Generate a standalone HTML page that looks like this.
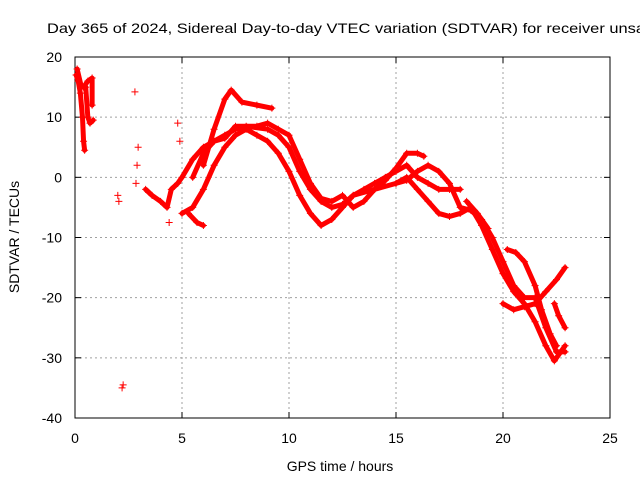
<!DOCTYPE html>
<html><head><meta charset="utf-8"><style>
html,body{margin:0;padding:0;background:#fff;overflow:hidden;}
svg{display:block;font-family:"Liberation Sans",sans-serif;}
</style></head><body>
<svg id="chart" width="640" height="480" xmlns="http://www.w3.org/2000/svg">
<rect width="640" height="480" fill="#fff"/>
<text x="47" y="33" font-size="14" fill="#000" textLength="598" lengthAdjust="spacingAndGlyphs">Day 365 of 2024, Sidereal Day-to-day VTEC variation (SDTVAR) for receiver unsa</text>
<g id="grid"></g>
<g id="axes"></g>
<g id="series"></g>
<text x="340" y="471" font-size="14" text-anchor="middle">GPS time / hours</text>
<text x="0" y="0" font-size="14" text-anchor="middle" transform="translate(19,237) rotate(-90)">SDTVAR / TECUs</text>
</svg>
<script>
const xTicks=[0,5,10,15,20,25];
const yTicks=[20,10,0,-10,-20,-30,-40];
const trackA=[[0.05,17],[0.15,16],[0.25,14],[0.35,10],[0.4,6],[0.45,4.5]];
const trackA2=[[0.1,18],[0.3,15],[0.5,15],[0.6,10],[0.7,9],[0.85,9.5]];
const trackA3=[[0.4,15],[0.6,16],[0.8,16.5],[0.8,12]];
const isolated=[[2.0,-3],[2.05,-4],[2.25,-34.5],[2.2,-35],[2.8,14.2],[2.85,-1],[2.9,2],[2.95,5],[4.8,9],[4.9,6],[4.4,-7.5]];
const trackB=[[3.3,-2],[3.6,-3],[4.0,-4],[4.3,-5],[4.5,-2],[4.8,-1],[5.0,0],[5.5,3],[6.0,5],[6.5,6],[7.0,7],[7.5,8],[8.0,8.5],[9.0,8],[9.5,7],[10.0,5],[10.5,1],[11.0,-2],[11.5,-4],[12.0,-5],[12.5,-4.5],[13.0,-3],[13.5,-2],[14.0,-1],[14.5,0],[15.0,1],[15.5,2],[16.0,0],[16.5,-1],[17.0,-2],[17.5,-2],[18.0,-2]];
const trackC=[[5.0,-6],[5.5,-5],[6.0,-2],[6.5,2],[7.0,5],[7.5,7],[8.0,8],[8.5,7],[9.0,6],[9.5,4],[10.0,1],[10.5,-3],[11.0,-6],[11.5,-8],[12.0,-7],[12.5,-5],[13.0,-3],[14.0,-2],[15.0,-1],[15.5,0],[16.0,-2],[16.5,-4],[17.0,-6],[17.5,-6.5],[18.0,-6],[18.5,-5],[19.0,-8],[19.5,-12],[20.0,-16],[20.5,-19],[21.0,-21],[21.5,-24],[22.0,-28],[22.4,-30.5],[22.9,-28]];
const trackD=[[5.3,-6],[5.7,-7.5],[6.0,-8]];
const trackE=[[6.0,2],[6.5,8],[7.0,13],[7.3,14.5],[7.8,12.5],[8.5,12],[9.2,11.5]];
const trackF=[[5.5,0],[6.0,4],[6.5,6],[7.0,6.5],[7.5,8.5],[8.5,8.5],[9.0,9],[9.5,8],[10.0,7],[10.5,3],[11.0,-1],[11.5,-3.5],[12.0,-4],[12.5,-3],[13.0,-5],[13.5,-4],[14.0,-2],[14.5,-0.5],[15.0,1.5],[15.5,4],[16.0,4],[16.3,3.5]];
const trackG=[[15.0,-1],[15.5,-0.5],[16.0,1],[16.5,2],[17.0,1],[17.5,-1],[18.0,-5],[18.5,-5.5],[19.0,-7],[19.5,-10],[20.0,-14],[20.5,-18],[21.0,-20],[21.5,-20],[22.0,-25],[22.5,-29],[22.9,-29]];
const trackH=[[18.3,-4],[18.8,-6],[19.3,-8.5]];
const trackI=[[20.0,-21],[20.5,-22],[21.0,-21.5],[21.5,-21],[22.0,-19],[22.5,-17],[22.9,-15]];
const trackJ=[[20.2,-12],[20.6,-12.5],[21.0,-14],[21.5,-18],[21.8,-22],[22.2,-26],[22.5,-28]];
const trackK=[[22.4,-21],[22.6,-23],[22.9,-25]];
const tracks=[trackA,trackA2,trackA3,trackB,trackC,trackD,trackE,trackF,trackG,trackH,trackI,trackJ,trackK];

const X0=75,X1=610,Y0=57,Y1=418;
const xs=v=>X0+(v-0)/25*(X1-X0);
const ys=v=>Y0+(20-v)/60*(Y1-Y0);
const NS="http://www.w3.org/2000/svg";
function mk(tag,attrs,parent){const e=document.createElementNS(NS,tag);for(const k in attrs)e.setAttribute(k,attrs[k]);parent.appendChild(e);return e;}
const grid=document.getElementById('grid'),axes=document.getElementById('axes'),ser=document.getElementById('series');
xTicks.forEach(t=>{
  const x=xs(t);
  if(t>0&&t<25){const g=mk('line',{x1:x,x2:x,y1:Y0,y2:Y1,stroke:'#a0a0a0','stroke-dasharray':'2,3'},grid);
  
  }
  const tk=mk('line',{x1:x,x2:x,y1:Y1,y2:Y1-6,stroke:'#000'},axes);
  
  
  const tk2=mk('line',{x1:x,x2:x,y1:Y0,y2:Y0+6,stroke:'#000'},axes);
  
  
  const lb=mk('text',{x:x,y:Y1+25,'font-size':14,'text-anchor':'middle'},axes);lb.textContent=t;
  
  
});
yTicks.forEach(t=>{
  const y=ys(t);
  if(t<20&&t>-40){const g=mk('line',{x1:X0,x2:X1,y1:y,y2:y,stroke:'#a0a0a0','stroke-dasharray':'2,3'},grid);
  
  }
  const tk=mk('line',{x1:X0,x2:X0+6,y1:y,y2:y,stroke:'#000'},axes);
  
  
  const tk2=mk('line',{x1:X1,x2:X1-6,y1:y,y2:y,stroke:'#000'},axes);
  
  
  const lb=mk('text',{x:X0-13,y:y+5,'font-size':14,'text-anchor':'end'},axes);lb.textContent=t;
  
  
});
const bd=mk('rect',{x:X0,y:Y0,width:X1-X0,height:Y1-Y0,fill:'none',stroke:'#000'},axes);


function plus(p){
  const x=xs(p[0]),y=ys(p[1]);
  const m=mk('path',{d:`M${x-3.5},${y}H${x+3.5}M${x},${y-3.5}V${y+3.5}`,stroke:'#ff0000','stroke-width':1},ser);
  
  
}
tracks.forEach(tr=>{
  const pl=mk('polyline',{points:tr.map(p=>xs(p[0])+','+ys(p[1])).join(' '),fill:'none',stroke:'#ff0000','stroke-width':5,'stroke-linejoin':'round','stroke-linecap':'round'},ser);
  
  
  tr.forEach(plus);
});
isolated.forEach(plus);
</script>
</body></html>
